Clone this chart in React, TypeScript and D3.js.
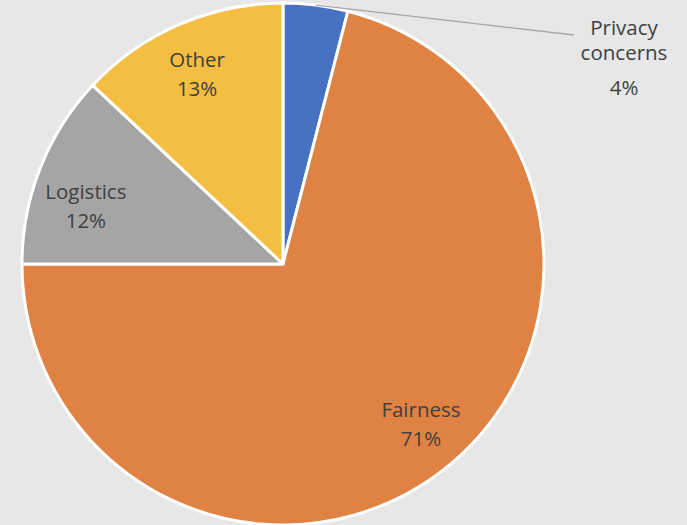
import React from "react";
import * as d3 from "d3";

const categories = ["Privacy concerns", "Fairness", "Logistics", "Other"];
const values = [4, 71, 12, 13];
const percentLabels = ["4%", "71%", "12%", "13%"];
const colors = ["#4672C1", "#E08243", "#A5A5A5", "#F4BE42"];

const W = 687;
const H = 525;
const cx = 283;
const cy = 264;
const R = 261;

export default function App() {
  const pie = d3.pie<number>().value((d) => d).sort(null);
  const arcs = pie(values);
  const arc = d3.arc<d3.PieArcDatum<number>>().innerRadius(0).outerRadius(R);
  const labelArc = d3.arc<d3.PieArcDatum<number>>().innerRadius(R * 0.8).outerRadius(R * 0.8);
  const outerPt = d3.arc<d3.PieArcDatum<number>>().innerRadius(R).outerRadius(R);
  const font = "'Open Sans', sans-serif";
  const textColor = "#404040";
  const fs = 20.5;
  // small best-fit nudges, like the spreadsheet's label placement
  const nudge = (i: number): [number, number] => (i === 2 ? [-3, 19] : i === 1 ? [10, -5] : [-3, 2]);

  return (
    <svg width={W} height={H} style={{ position: "absolute", left: 0, top: 0, background: "#E7E7E7" }}>
      <rect x={0} y={0} width={W} height={H} fill="#E7E7E7" />
      <g transform={`translate(${cx},${cy})`}>
        {arcs.map((a, i) => (
          <path key={i} d={arc(a) || ""} fill={colors[i]} stroke="#ffffff" strokeWidth={3} strokeLinejoin="round" />
        ))}
        {arcs.map((a, i) => {
          if (i === 0) {
            const [px, py] = outerPt.centroid(a);
            const lx = 574 - cx;
            const ly = 35 - cy;
            return (
              <g key={i}>
                <line x1={px} y1={py} x2={lx} y2={ly} stroke="#A6A6A6" strokeWidth={1.3} />
                <text x={624 - cx} y={35 - cy} textAnchor="middle" fontFamily={font} fontSize={fs} fill={textColor}>
                  <tspan x={624 - cx} dy={0}>Privacy</tspan>
                  <tspan x={624 - cx} dy={25}>concerns</tspan>
                </text>
                <text x={624 - cx} y={95 - cy} textAnchor="middle" fontFamily={font} fontSize={fs} fill={textColor}>
                  {percentLabels[i]}
                </text>
              </g>
            );
          }
          const [x0, y0] = labelArc.centroid(a);
          const [nx, ny] = nudge(i);
          const x = x0 + nx;
          const y = y0 + ny;
          const name = categories[i];
          return (
            <text key={i} textAnchor="middle" fontFamily={font} fontSize={fs} fill={textColor}>
              <tspan x={x} y={y - 7}>{name}</tspan>
              <tspan x={x} y={y + 22}>{percentLabels[i]}</tspan>
            </text>
          );
        })}
      </g>
    </svg>
  );
}
